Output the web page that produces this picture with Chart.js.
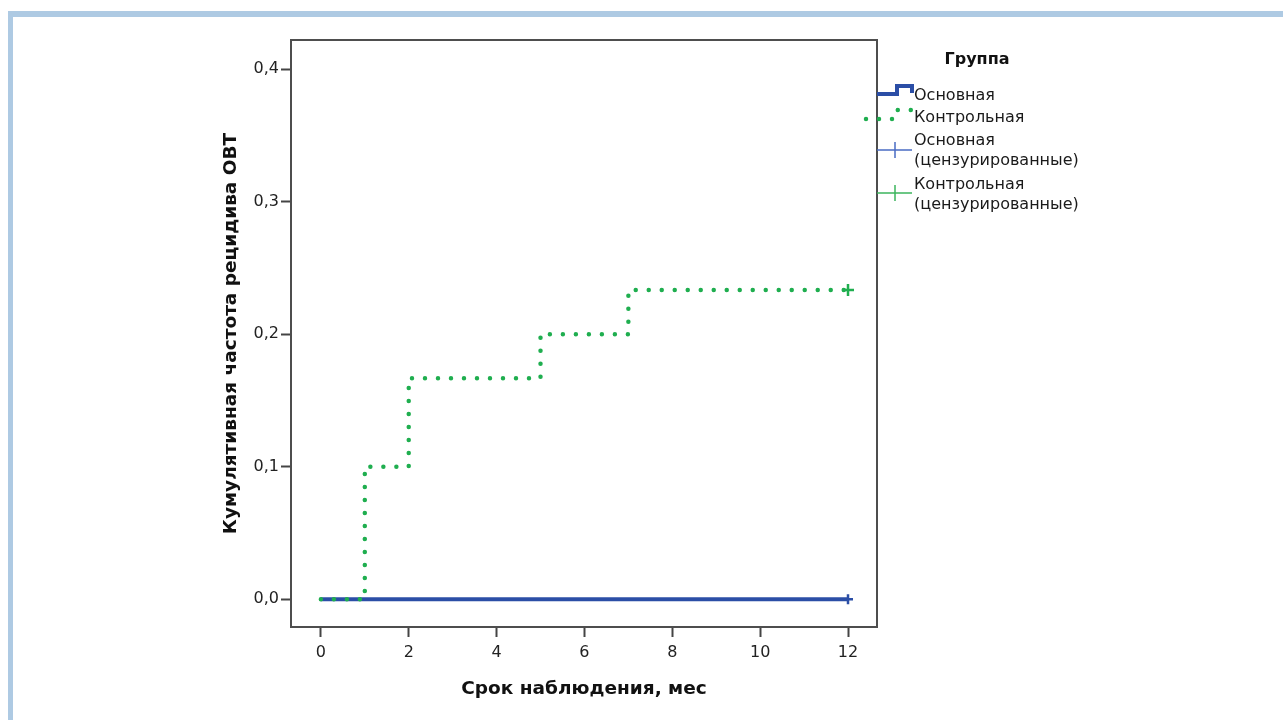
<!DOCTYPE html>
<html>
<head>
<meta charset="utf-8">
<script src="https://cdn.jsdelivr.net/npm/chart.js@4"></script>
<style>
  html, body { margin: 0; padding: 0; background: #fff; }
  #wrap { position: relative; width: 1283px; height: 720px; overflow: hidden; }
  #frame { position: absolute; left: 8px; top: 11px; width: 1400px; height: 800px;
           border-top: 6px solid #aecae3; border-left: 5px solid #aecae3; }
  #chart { position: absolute; left: 0; top: 0; }
</style>
</head>
<body>
<div id="wrap">
  <div id="frame"></div>
  <canvas id="chart" width="1283" height="720"></canvas>
</div>
<script>
// Kaplan-Meier style cumulative incidence, months
const mainTimes = [0, 12];
const mainValues = [0, 0];
const ctrlTimes = [0, 1, 2, 5, 7, 12];
const ctrlValues = [0, 0.1, 0.1667, 0.2, 0.2333, 0.2333];
// censored observations (end of follow-up)
const mainCensTimes = [12];
const mainCensValues = [0];
const ctrlCensTimes = [12];
const ctrlCensValues = [0.2333];

const xTicks = [0, 2, 4, 6, 8, 10, 12];
const yTicks = [0, 0.1, 0.2, 0.3, 0.4];

const BLUE = '#2b4ea6';
const GREEN = '#1fae4f';
const FONT = '"DejaVu Sans", sans-serif';

const toXY = (xs, ys) => xs.map((x, i) => ({x, y: ys[i]}));

// box round the plot + the "Группа" legend on the right
const boxAndLegend = {
  id: 'boxAndLegend',
  beforeDatasetsDraw(chart) {
    const {ctx, chartArea: a} = chart;
    ctx.save();
    ctx.strokeStyle = '#4e4e4e';
    ctx.lineWidth = 2;
    ctx.strokeRect(a.left, a.top, a.right - a.left, a.bottom - a.top);
    ctx.restore();
  },
  afterDraw(chart) {
    const ctx = chart.ctx;
    const x0 = chart.chartArea.right;
    ctx.save();
    ctx.fillStyle = '#111';
    ctx.font = 'bold 16px ' + FONT;
    ctx.textAlign = 'center';
    ctx.textBaseline = 'middle';
    ctx.fillText('Группа', 977, 60);

    // Основная: step symbol
    ctx.strokeStyle = BLUE;
    ctx.lineWidth = 4;
    ctx.beginPath();
    ctx.moveTo(x0, 94); ctx.lineTo(897, 94); ctx.lineTo(897, 86);
    ctx.lineTo(912, 86); ctx.lineTo(912, 93);
    ctx.stroke();

    // Контрольная: dotted step symbol
    ctx.strokeStyle = GREEN;
    ctx.lineWidth = 4.5;
    ctx.lineCap = 'round';
    ctx.setLineDash([0, 13]);
    ctx.beginPath();
    ctx.moveTo(866, 119); ctx.lineTo(894, 119); ctx.lineTo(896, 110); ctx.lineTo(912, 110);
    ctx.stroke();
    ctx.setLineDash([]);
    ctx.lineCap = 'butt';

    // censored symbols
    ctx.lineWidth = 1.5;
    ctx.strokeStyle = '#4a6cc4';
    ctx.beginPath();
    ctx.moveTo(x0, 150); ctx.lineTo(912, 150);
    ctx.moveTo(895, 142); ctx.lineTo(895, 158);
    ctx.stroke();
    ctx.strokeStyle = '#3cb55e';
    ctx.beginPath();
    ctx.moveTo(x0, 193); ctx.lineTo(912, 193);
    ctx.moveTo(895, 185); ctx.lineTo(895, 201);
    ctx.stroke();

    ctx.fillStyle = '#1a1a1a';
    ctx.font = '16px ' + FONT;
    ctx.textAlign = 'left';
    ctx.fillText('Основная', 914, 96);
    ctx.fillText('Контрольная', 914, 118);
    ctx.fillText('Основная', 914, 141);
    ctx.fillText('(цензурированные)', 914, 161);
    ctx.fillText('Контрольная', 914, 185);
    ctx.fillText('(цензурированные)', 914, 205);
    ctx.restore();
  }
};

new Chart(document.getElementById('chart'), {
  type: 'line',
  data: {
    datasets: [
      {
        label: 'Контрольная',
        data: toXY(ctrlTimes, ctrlValues),
        borderColor: GREEN,
        borderWidth: 4.5,
        borderDash: [0, 13],
        borderCapStyle: 'round',
        stepped: 'before',
        pointRadius: 0,
        fill: false,
        order: 0
      },
      {
        label: 'Основная',
        data: toXY(mainTimes, mainValues),
        borderColor: BLUE,
        borderWidth: 4,
        stepped: 'before',
        pointRadius: 0,
        fill: false,
        order: 1
      },
      {
        label: 'Основная (цензурированные)',
        data: toXY(mainCensTimes, mainCensValues),
        showLine: false,
        pointStyle: 'cross',
        pointRadius: 5,
        pointBorderWidth: 2.5,
        borderColor: BLUE,
        order: 0
      },
      {
        label: 'Контрольная (цензурированные)',
        data: toXY(ctrlCensTimes, ctrlCensValues),
        showLine: false,
        pointStyle: 'cross',
        pointRadius: 6,
        pointBorderWidth: 2.5,
        borderColor: GREEN,
        order: 0
      }
    ]
  },
  options: {
    responsive: false,
    animation: false,
    layout: { padding: { top: 40, right: 406, bottom: 20, left: 220 } },
    plugins: { legend: { display: false }, tooltip: { enabled: false } },
    scales: {
      x: {
        type: 'linear',
        min: -0.68,
        max: 12.66,
        afterBuildTicks: s => { s.ticks = xTicks.map(v => ({value: v})); },
        afterFit: s => { s.height = 73; },
        grid: { drawOnChartArea: false, drawTicks: true, tickLength: 10, tickColor: '#444', tickWidth: 2 },
        border: { display: true, color: '#4e4e4e', width: 2 },
        ticks: { color: '#222', padding: 6, maxRotation: 0, font: { family: FONT, size: 16 },
                 callback: v => String(v) },
        title: { display: true, text: 'Срок наблюдения, мес', color: '#111',
                 padding: 0, font: { family: FONT, size: 18.5, weight: 'bold' } }
      },
      y: {
        type: 'linear',
        min: -0.021,
        max: 0.422,
        afterBuildTicks: s => { s.ticks = yTicks.map(v => ({value: v})); },
        afterFit: s => { s.width = 71; },
        grid: { drawOnChartArea: false, drawTicks: true, tickLength: 10, tickColor: '#444', tickWidth: 2 },
        border: { display: true, color: '#4e4e4e', width: 2 },
        ticks: { color: '#222', padding: 2, font: { family: FONT, size: 16 },
                 callback: v => v.toFixed(1).replace('.', ',') },
        title: { display: true, text: 'Кумулятивная частота рецидива ОВТ', color: '#111',
                 padding: 0, font: { family: FONT, size: 18.5, weight: 'bold' } }
      }
    }
  },
  plugins: [boxAndLegend]
});
</script>
</body>
</html>
